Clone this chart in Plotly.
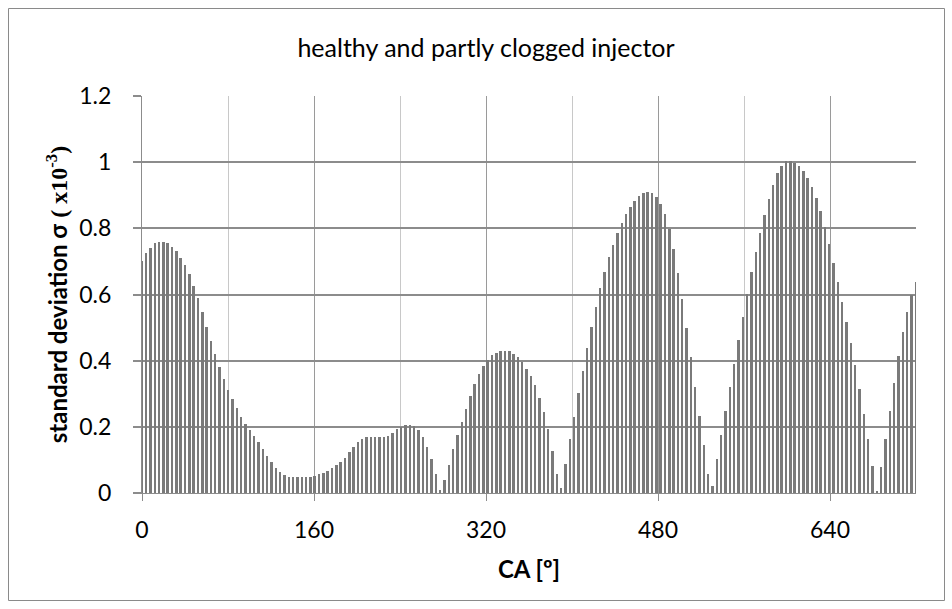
import numpy as np
import plotly.graph_objects as go

# standard deviation sigma (x10^-3), one value per CA sample
sigma = [
    0.701, 0.726, 0.742, 0.755, 0.760, 0.760, 0.755, 0.743, 0.730, 0.711,
    0.688, 0.662, 0.627, 0.590, 0.547, 0.503, 0.460, 0.419, 0.380, 0.344,
    0.311, 0.283, 0.257, 0.231, 0.210,
    0.191, 0.172, 0.154, 0.133, 0.112, 0.093, 0.075, 0.063, 0.054, 0.049,
    0.047, 0.047, 0.047, 0.047, 0.047, 0.052, 0.056, 0.061, 0.068, 0.075,
    0.084, 0.095, 0.107, 0.123, 0.139,
    0.154,
    0.164, 0.169, 0.170, 0.169, 0.169, 0.169, 0.173, 0.181, 0.192, 0.201,
    0.206, 0.207, 0.204, 0.191, 0.170, 0.140, 0.103, 0.057, 0.009, 0.038,
    0.086, 0.132, 0.174, 0.215, 0.255,
    0.293, 0.329, 0.360, 0.384, 0.403, 0.416, 0.424, 0.428, 0.429, 0.428,
    0.421, 0.410, 0.395, 0.376, 0.353, 0.325, 0.288, 0.245, 0.192, 0.127,
    0.057, 0.015, 0.089, 0.162, 0.231,
    0.302,
    0.370, 0.437, 0.503, 0.563, 0.619, 0.667, 0.712, 0.749, 0.785, 0.817,
    0.843, 0.866, 0.884, 0.898, 0.906, 0.909, 0.906, 0.895, 0.875, 0.842,
    0.799, 0.737, 0.664, 0.585, 0.500,
    0.410, 0.321, 0.233, 0.145, 0.057, 0.022, 0.102, 0.175, 0.248, 0.321,
    0.391, 0.461, 0.532, 0.601, 0.667, 0.729, 0.787, 0.839, 0.888, 0.931,
    0.966, 0.988, 1.003, 1.004, 0.998,
    0.989, 0.973, 0.951, 0.924, 0.892, 0.853, 0.805, 0.753, 0.696, 0.637,
    0.577, 0.517, 0.452, 0.386, 0.313, 0.238, 0.162, 0.083, 0.004, 0.078,
    0.162, 0.249, 0.333, 0.414, 0.486, 0.548, 0.599, 0.638,
]
# crank angle samples spanning 0..720 deg
ca = np.linspace(0, 720, len(sigma))

x_ticks = [0, 160, 320, 480, 640]
y_ticks = [0, 0.2, 0.4, 0.6, 0.8, 1, 1.2]
y_ticklabels = ["0", "0.2", "0.4", "0.6", "0.8", "1", "1.2"]

title_text = "healthy and partly clogged injector"
x_title = "<b>CA [º]</b>"
y_title = ("<b>standard deviation σ</b> <span style='font-family:Liberation Serif'>"
           "<b>( x10<sup>-3</sup>)</b></span>")

FONT = "Lato, Liberation Sans, sans-serif"
TICK = 23

fig = go.Figure()
fig.add_trace(go.Bar(
    x=ca, y=sigma, width=1.8,
    marker=dict(color="#7a7a7a", line=dict(width=0)),
    showlegend=False,
))

# plot area in pixels: x 142..916, y 96..493
L, R, T, B = 142, 916, 96, 493
W, H = 952, 609
pw, ph = R - L, B - T

def px_to_paper_x(px):
    return (px - L) / pw

def px_to_paper_y(py):
    return (B - py) / ph

fig.update_layout(
    width=W, height=H,
    margin=dict(l=L, r=W - R, t=T, b=H - B, pad=0),
    paper_bgcolor="white", plot_bgcolor="white",
    bargap=0,
    font=dict(family=FONT, color="#000000", size=TICK),
    title=dict(text=title_text, x=486 / W, xref="container", xanchor="center",
               y=1 - 48 / H, yanchor="middle", yref="container",
               font=dict(size=25, family=FONT, color="#000000")),
    xaxis=dict(
        range=[0, 720], tickmode="array", tickvals=x_ticks,
        ticktext=[str(v) for v in x_ticks],
        showgrid=True, gridcolor="#9a9a9a", gridwidth=1.3,
        minor=dict(dtick=80, tick0=0, showgrid=True, gridcolor="#c8c8c8", gridwidth=1.3),
        ticks="outside", ticklen=7, tickcolor="#8c8c8c", tickwidth=1.3,
        showline=True, linecolor="#8c8c8c", linewidth=1.3,
        zeroline=False, ticklabelstandoff=9,
        title=dict(text=x_title, standoff=19, font=dict(size=24, family=FONT)),
        tickfont=dict(size=TICK, family=FONT),
    ),
    yaxis=dict(
        range=[0, 1.2], tickmode="array", tickvals=y_ticks, ticktext=y_ticklabels,
        showgrid=True, gridcolor="#8c8c8c", gridwidth=1.5,
        ticks="outside", ticklen=8, tickcolor="#8c8c8c", tickwidth=1.5,
        showline=True, linecolor="#8c8c8c", linewidth=1.3,
        zeroline=False, ticklabelstandoff=17,
        title=dict(text=y_title, standoff=4, font=dict(size=24, family=FONT)),
        tickfont=dict(size=TICK, family=FONT),
    ),
    shapes=[dict(
        type="rect", xref="paper", yref="paper",
        x0=px_to_paper_x(8.5), x1=px_to_paper_x(944.5),
        y0=px_to_paper_y(600.5), y1=px_to_paper_y(8.5),
        line=dict(color="#8a8a8a", width=1), fillcolor="rgba(0,0,0,0)",
        layer="below",
    )],
)

fig.write_html("out.html")
